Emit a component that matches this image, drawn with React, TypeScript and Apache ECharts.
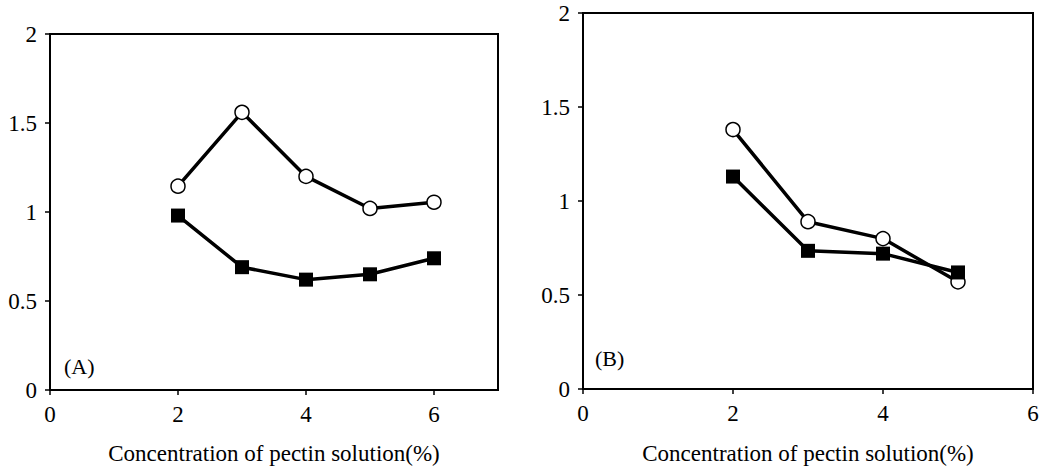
import React, { useEffect, useRef } from "react";
import * as echarts from "echarts";

const xA = [2, 3, 4, 5, 6];
const circlesA = [1.145, 1.56, 1.2, 1.02, 1.055];
const squaresA = [0.98, 0.69, 0.62, 0.65, 0.74];

const xB = [2, 3, 4, 5];
const circlesB = [1.38, 0.89, 0.8, 0.57];
const squaresB = [1.13, 0.735, 0.72, 0.62];

const yTicks = [0, 0.5, 1, 1.5, 2];
const xTitle = "Concentration of pectin solution(%)";

const FONT = "Liberation Serif";

export default function App() {
  const ref = useRef<HTMLDivElement>(null);
  useEffect(() => {
    if (!ref.current) return;
    const chart = echarts.init(ref.current, null, { renderer: "svg" });
    const pair = (xs: number[], ys: number[]) => xs.map((x, i) => [x, ys[i]]);
    const yAxis = (gi: number) => ({
      type: "value",
      gridIndex: gi,
      min: 0,
      max: 2,
      interval: 0.5,
      axisLine: { show: true, lineStyle: { color: "#000", width: 2 } },
      axisTick: { show: true, inside: false, length: 5, lineStyle: { color: "#000", width: 1.5 } },
      splitLine: { show: false },
      axisLabel: {
        color: "#000",
        fontFamily: FONT,
        fontSize: 23,
        margin: 13,
        formatter: (v: number) => (yTicks.includes(v) ? String(v) : ""),
      },
    });
    const xAxis = (gi: number, max: number, showMax: boolean, gap: number) => ({
      type: "value",
      gridIndex: gi,
      min: 0,
      max,
      interval: 2,
      name: xTitle,
      nameLocation: "middle",
      nameGap: gap,
      nameTextStyle: { color: "#000", fontFamily: FONT, fontSize: 23 },
      axisLine: { show: true, lineStyle: { color: "#000", width: 2 } },
      axisTick: { show: true, inside: false, length: 5, lineStyle: { color: "#000", width: 1.5 } },
      splitLine: { show: false },
      axisLabel: {
        color: "#000",
        fontFamily: FONT,
        fontSize: 23,
        margin: 13,
        showMaxLabel: showMax,
      },
    });
    const lineStyle = { color: "#000", width: 3.5 };
    const circ = (gi: number, data: number[][]) => ({
      type: "line",
      xAxisIndex: gi,
      yAxisIndex: gi,
      data,
      symbol: "circle",
      symbolSize: 14,
      lineStyle,
      itemStyle: { color: "#fff", borderColor: "#000", borderWidth: 1.5 },
      z: 2,
    });
    const sq = (gi: number, data: number[][]) => ({
      type: "line",
      xAxisIndex: gi,
      yAxisIndex: gi,
      data,
      symbol: "rect",
      symbolSize: 14,
      lineStyle,
      itemStyle: { color: "#000", borderColor: "#000", borderWidth: 0 },
      z: 3,
    });
    chart.setOption({
      animation: false,
      backgroundColor: "#fff",
      grid: [
        { left: 50, top: 34, width: 448, height: 358, show: true, borderColor: "#000", borderWidth: 2, backgroundColor: "transparent" },
        { left: 583, top: 13, width: 450, height: 376, show: true, borderColor: "#000", borderWidth: 2, backgroundColor: "transparent" },
      ],
      xAxis: [xAxis(0, 7, false, 52), xAxis(1, 6, true, 53)],
      yAxis: [yAxis(0), yAxis(1)],
      series: [
        circ(0, pair(xA, circlesA)),
        sq(0, pair(xA, squaresA)),
        circ(1, pair(xB, circlesB)),
        sq(1, pair(xB, squaresB)),
      ],
      graphic: [
        { type: "text", left: 64, top: 355, style: { text: "(A)", fill: "#000", font: `22px "${FONT}"` } },
        { type: "text", left: 595, top: 347, style: { text: "(B)", fill: "#000", font: `22px "${FONT}"` } },
      ],
    });
    return () => chart.dispose();
  }, []);
  return (
    <div
      ref={ref}
      style={{ position: "fixed", left: 0, top: 0, width: 1043, height: 470, background: "#fff" }}
    />
  );
}
